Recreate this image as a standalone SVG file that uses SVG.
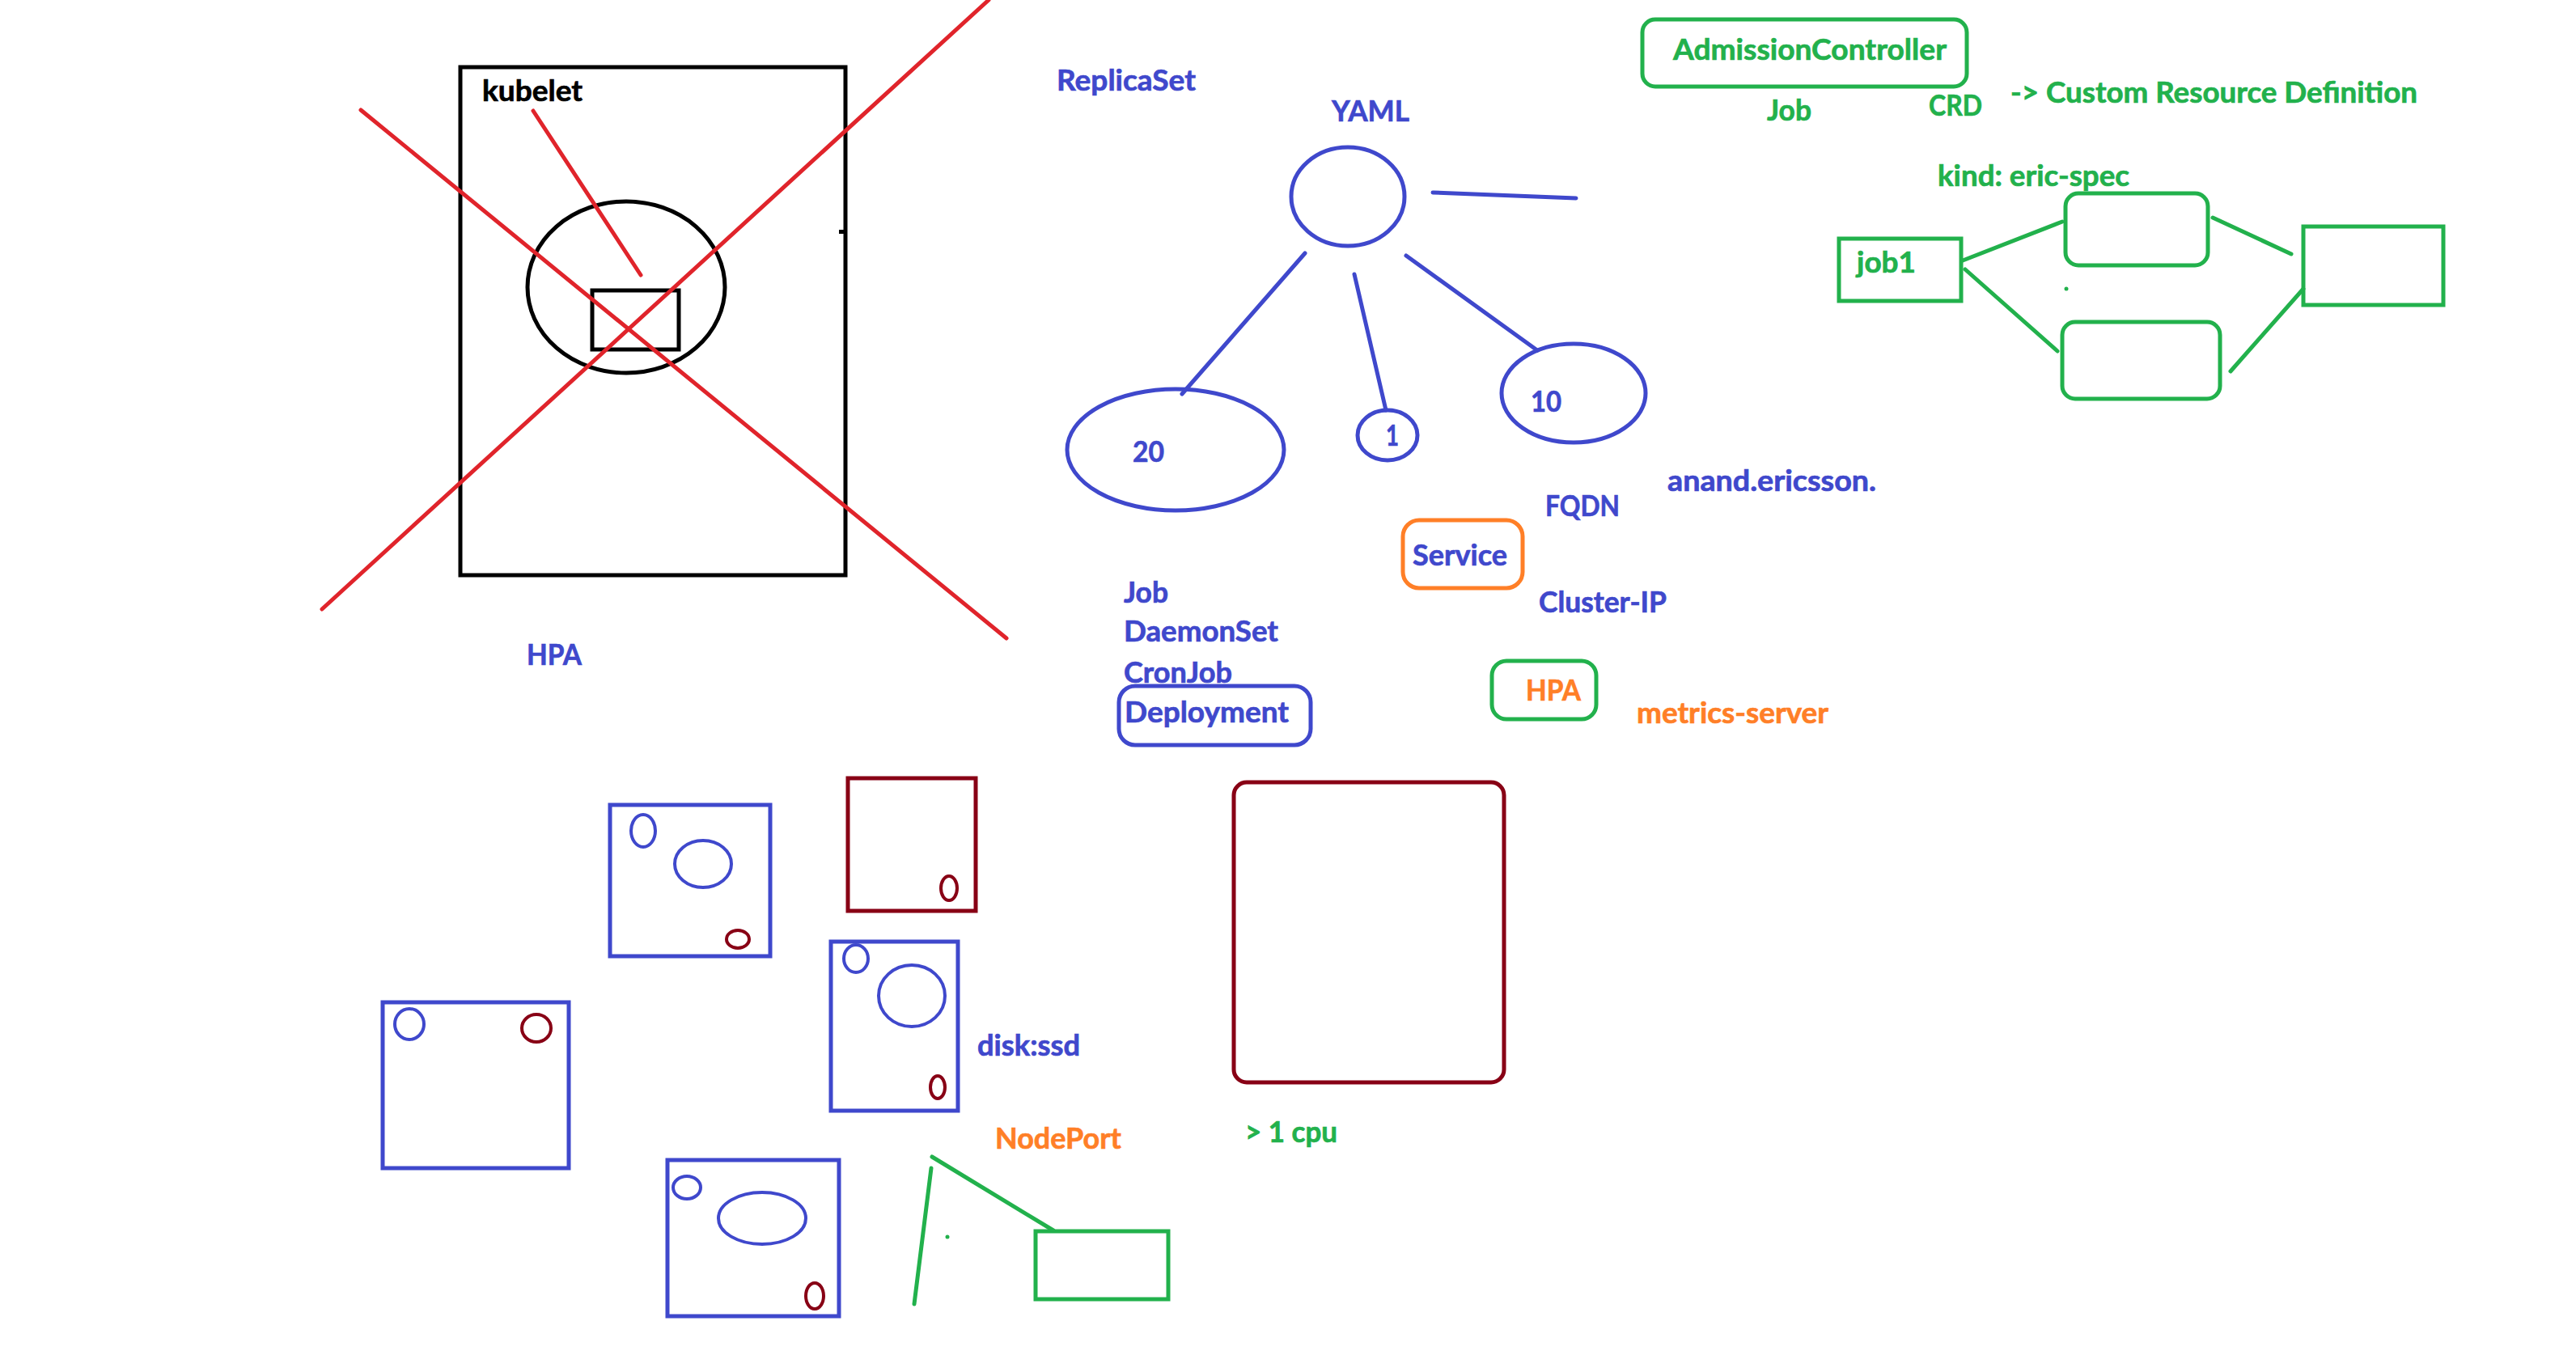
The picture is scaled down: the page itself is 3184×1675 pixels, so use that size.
<svg xmlns="http://www.w3.org/2000/svg" width="3184" height="1675" viewBox="0 0 3184 1675">
<style>
  text { font-family: Lato, "Liberation Sans", sans-serif; font-weight: bold; font-size: 37px; stroke-width: 0.7; }
  .k { fill: #000000; stroke: #000000; }
  .b { fill: #3F48CC; stroke: #3F48CC; }
  .g { fill: #22B14C; stroke: #22B14C; }
  .o { fill: #FF7F27; stroke: #FF7F27; }
  .sk { fill: none; stroke: #000000; stroke-width: 5; }
  .sr { fill: none; stroke: #E0242B; stroke-width: 5; stroke-linecap: round; }
  .sb { fill: none; stroke: #3F48CC; stroke-width: 5; stroke-linecap: round; }
  .sg { fill: none; stroke: #22B14C; stroke-width: 5; stroke-linecap: round; }
  .so { fill: none; stroke: #FF7F27; stroke-width: 5; }
  .sd { fill: none; stroke: #880015; stroke-width: 5; }
  .sd4 { fill: none; stroke: #880015; stroke-width: 4; }
  .sb4 { fill: none; stroke: #3F48CC; stroke-width: 4; }
</style>
<rect width="3184" height="1675" fill="#FFFFFF"/>

<g id="node-kubelet">
  <rect class="sk" x="569" y="83" width="476" height="628"/>
  <rect x="1037" y="284" width="7" height="5" fill="#000000"/>
  <ellipse class="sk" cx="774" cy="355" rx="122" ry="106"/>
  <rect class="sk" x="732" y="359" width="107" height="73"/>
  <text class="k" x="596" y="125" textLength="124" lengthAdjust="spacingAndGlyphs">kubelet</text>
</g>

<g id="node-hpa-left">
  <text class="b" x="651" y="822" textLength="68" lengthAdjust="spacingAndGlyphs">HPA</text>
</g>

<g id="node-replicaset">
  <text class="b" x="1306" y="112" textLength="172" lengthAdjust="spacingAndGlyphs">ReplicaSet</text>
</g>

<g id="node-yaml">
  <text class="b" x="1646" y="150" textLength="96" lengthAdjust="spacingAndGlyphs">YAML</text>
  <ellipse class="sb" cx="1666" cy="243" rx="70" ry="61"/>
</g>

<g id="node-20">
  <ellipse class="sb" cx="1453" cy="556" rx="134" ry="75"/>
  <text class="b" x="1400" y="571" textLength="39" lengthAdjust="spacingAndGlyphs">20</text>
</g>

<g id="node-1">
  <ellipse class="sb" cx="1715" cy="538" rx="37" ry="31"/>
  <text class="b" x="1713" y="551" textLength="16" lengthAdjust="spacingAndGlyphs">1</text>
</g>

<g id="node-10">
  <ellipse class="sb" cx="1945" cy="486" rx="89" ry="61"/>
  <text class="b" x="1892" y="509" textLength="38" lengthAdjust="spacingAndGlyphs">10</text>
</g>

<g id="node-fqdn">
  <text class="b" x="1910" y="638" textLength="92" lengthAdjust="spacingAndGlyphs">FQDN</text>
</g>

<g id="node-anand">
  <text class="b" x="2061" y="607" textLength="258" lengthAdjust="spacingAndGlyphs">anand.ericsson.</text>
</g>

<g id="node-service">
  <rect class="so" x="1734" y="643" width="148" height="84" rx="20"/>
  <text class="b" x="1746" y="699" textLength="117" lengthAdjust="spacingAndGlyphs">Service</text>
</g>

<g id="node-clusterip">
  <text class="b" x="1902" y="757" textLength="158" lengthAdjust="spacingAndGlyphs">Cluster-IP</text>
</g>

<g id="node-workloads">
  <text class="b" x="1389" y="745" textLength="55" lengthAdjust="spacingAndGlyphs">Job</text>
  <text class="b" x="1389" y="793" textLength="191" lengthAdjust="spacingAndGlyphs">DaemonSet</text>
  <text class="b" x="1389" y="844" textLength="134" lengthAdjust="spacingAndGlyphs">CronJob</text>
</g>

<g id="node-deployment">
  <rect class="sb" x="1383" y="848" width="237" height="73" rx="20"/>
  <text class="b" x="1390" y="893" textLength="203" lengthAdjust="spacingAndGlyphs">Deployment</text>
</g>

<g id="node-hpa">
  <rect class="sg" x="1844" y="817" width="129" height="72" rx="18"/>
  <text class="o" x="1886" y="866" textLength="68" lengthAdjust="spacingAndGlyphs">HPA</text>
</g>

<g id="node-metrics-server">
  <text class="o" x="2023" y="894" textLength="237" lengthAdjust="spacingAndGlyphs">metrics-server</text>
</g>

<g id="node-admission">
  <rect class="sg" x="2030" y="24" width="401" height="83" rx="16"/>
  <text class="g" x="2068" y="74" textLength="338" lengthAdjust="spacingAndGlyphs">AdmissionController</text>
</g>

<g id="node-job-green">
  <text class="g" x="2184" y="149" textLength="55" lengthAdjust="spacingAndGlyphs">Job</text>
</g>

<g id="node-crd">
  <text class="g" x="2384" y="143" textLength="66" lengthAdjust="spacingAndGlyphs">CRD</text>
  <text class="g" x="2485" y="127" textLength="503" lengthAdjust="spacingAndGlyphs">-&gt; Custom Resource Definition</text>
</g>

<g id="node-kind">
  <text class="g" x="2395" y="230" textLength="237" lengthAdjust="spacingAndGlyphs">kind: eric-spec</text>
</g>

<g id="node-job1">
  <rect class="sg" x="2273" y="295" width="151" height="77" stroke-linecap="butt"/>
  <text class="g" x="2295" y="337" textLength="73" lengthAdjust="spacingAndGlyphs">job1</text>
</g>

<g id="node-green-top">
  <rect class="sg" x="2553" y="239" width="176" height="89" rx="16"/>
</g>

<g id="node-green-bottom">
  <rect class="sg" x="2549" y="398" width="195" height="95" rx="16"/>
</g>

<g id="node-green-right">
  <rect class="sg" x="2847" y="280" width="173" height="97"/>
</g>

<g id="node-box-a">
  <rect class="sb" x="754" y="995" width="198" height="187"/>
  <ellipse class="sb4" cx="795" cy="1027" rx="15" ry="20"/>
  <ellipse class="sb4" cx="869" cy="1068" rx="35" ry="29"/>
  <ellipse class="sd4" cx="912" cy="1161" rx="14" ry="11"/>
</g>

<g id="node-box-b">
  <rect class="sd" x="1048" y="962" width="158" height="164"/>
  <ellipse class="sd4" cx="1173" cy="1098" rx="10" ry="15"/>
</g>

<g id="node-box-c">
  <rect class="sb" x="1027" y="1164" width="157" height="209"/>
  <ellipse class="sb4" cx="1058" cy="1185" rx="15" ry="17"/>
  <ellipse class="sb4" cx="1127" cy="1231" rx="41" ry="38"/>
  <ellipse class="sd4" cx="1159" cy="1344" rx="9" ry="14"/>
</g>

<g id="node-disk">
  <text class="b" x="1208" y="1305" textLength="127" lengthAdjust="spacingAndGlyphs">disk:ssd</text>
</g>

<g id="node-box-d">
  <rect class="sb" x="473" y="1239" width="230" height="205"/>
  <ellipse class="sb4" cx="506" cy="1266" rx="18" ry="19"/>
  <ellipse class="sd4" cx="663" cy="1271" rx="18" ry="17"/>
</g>

<g id="node-box-e">
  <rect class="sb" x="825" y="1434" width="212" height="193"/>
  <ellipse class="sb4" cx="849" cy="1468" rx="17" ry="14"/>
  <ellipse class="sb4" cx="942" cy="1506" rx="54" ry="32"/>
  <ellipse class="sd4" cx="1007" cy="1602" rx="11" ry="16"/>
</g>

<g id="node-big">
  <rect class="sd" x="1525" y="967" width="334" height="371" rx="16"/>
  <text class="g" x="1539" y="1412" textLength="114" lengthAdjust="spacingAndGlyphs">&gt; 1 cpu</text>
</g>

<g id="node-nodeport">
  <text class="o" x="1230" y="1420" textLength="156" lengthAdjust="spacingAndGlyphs">NodePort</text>
  <rect class="sg" x="1280" y="1522" width="164" height="84"/>
  <circle cx="1171" cy="1529" r="2.5" fill="#22B14C"/>
</g>

<g id="connectors">
  <line class="sr" x1="446" y1="136" x2="1244" y2="789"/>
  <line class="sr" x1="398" y1="753" x2="1222" y2="0"/>
  <line class="sr" x1="659" y1="137" x2="792" y2="340"/>
  <line class="sb" x1="1771" y1="238" x2="1948" y2="245"/>
  <line class="sb" x1="1613" y1="313" x2="1461" y2="487"/>
  <line class="sb" x1="1674" y1="339" x2="1713" y2="507"/>
  <line class="sb" x1="1738" y1="316" x2="1900" y2="433"/>
  <line class="sg" x1="2426" y1="322" x2="2549" y2="274"/>
  <line class="sg" x1="2429" y1="333" x2="2543" y2="434"/>
  <line class="sg" x1="2735" y1="269" x2="2832" y2="314"/>
  <line class="sg" x1="2757" y1="459" x2="2847" y2="357"/>
  <circle cx="2554" cy="357" r="2.5" fill="#22B14C"/>
  <line class="sg" x1="1151" y1="1444" x2="1130" y2="1612"/>
  <line class="sg" x1="1152" y1="1430" x2="1302" y2="1521"/>
</g>
</svg>
